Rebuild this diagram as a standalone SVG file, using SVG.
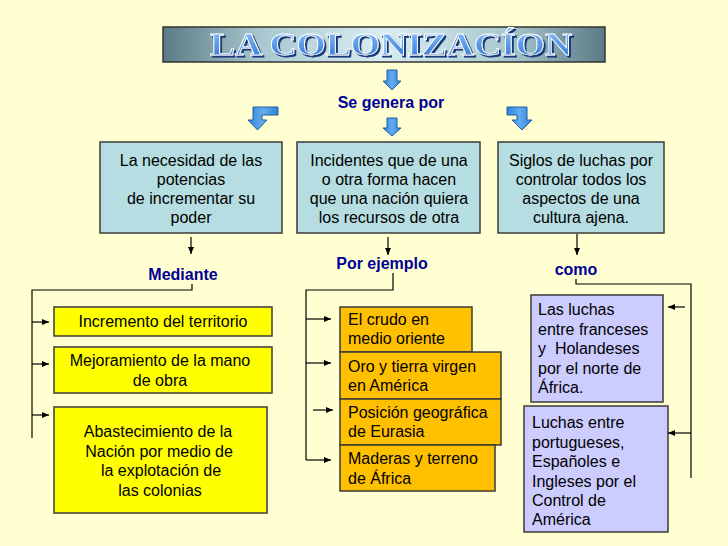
<svg xmlns="http://www.w3.org/2000/svg" width="728" height="546" viewBox="0 0 728 546">
<defs>
  <linearGradient id="bar" x1="0" y1="0" x2="1" y2="0">
    <stop offset="0" stop-color="#5A7A85"/>
    <stop offset="0.22" stop-color="#A9C7CF"/>
    <stop offset="0.5" stop-color="#D9EDF1"/>
    <stop offset="0.78" stop-color="#A9C7CF"/>
    <stop offset="1" stop-color="#5A7A85"/>
  </linearGradient>
  <linearGradient id="blue" x1="0" y1="0" x2="1" y2="0">
    <stop offset="0" stop-color="#3482D6"/>
    <stop offset="0.5" stop-color="#62ACF0"/>
    <stop offset="1" stop-color="#3482D6"/>
  </linearGradient>
  <linearGradient id="titleFill" x1="0" y1="0" x2="0" y2="1">
    <stop offset="0" stop-color="#8CC6FF"/>
    <stop offset="1" stop-color="#2A6FD0"/>
  </linearGradient>
  <filter id="tshadow" x="-5%" y="-20%" width="110%" height="150%">
    <feDropShadow dx="2" dy="2" stdDeviation="0.4" flood-color="#123A78" flood-opacity="1"/>
  </filter>
  <marker id="ah" markerUnits="userSpaceOnUse" markerWidth="7" markerHeight="6" refX="7" refY="3" orient="auto">
    <path d="M0,0 L7,3 L0,6 z" fill="#000"/>
  </marker>
</defs>
<style>
  .box { stroke: #3A3A3A; stroke-width: 1.5; }
  .teal { fill: #B6DDE1; }
  .yel { fill: #FFFF00; }
  .org { fill: #FFC000; }
  .lav { fill: #CCCCFF; }
  .t { font-family: "Liberation Sans", Arial, sans-serif; font-size: 16px; fill: #000; }
  .c { text-anchor: middle; }
  .lbl { font-family: "Liberation Sans", Arial, sans-serif; font-size: 16px; font-weight: bold; fill: #000099; text-anchor: middle; }
  .ba { fill: url(#blue); stroke: #1E5FA8; stroke-width: 1; }
  .con { fill: none; stroke: #000; stroke-width: 1.2; }
  .arr { fill: none; stroke: #000; stroke-width: 1.2; marker-end: url(#ah); }
</style>
<rect x="0" y="0" width="728" height="546" fill="#FFFFD2"/>

<g id="title">
  <rect x="163" y="27" width="442" height="35" fill="url(#bar)" stroke="#333" stroke-width="1.5"/>
  <text x="210" y="55" textLength="362" lengthAdjust="spacingAndGlyphs" font-family="Liberation Serif, serif" font-weight="bold" font-size="31" fill="url(#titleFill)" stroke="#FFFFFF" stroke-width="0.8" filter="url(#tshadow)">LA COLONIZACÍON</text>
</g>

<g id="blue-arrows">
  <path class="ba" d="M387,70 H397 V81 H401 L392,90 L383,81 H387 Z"/>
  <path class="ba" d="M387,118 H397 V128 H401 L392,136 L383,128 H387 Z"/>
  <path class="ba" d="M278,107 V115 H262 V120 H267 L257.5,130 L248,120 H253 V107 Z"/>
  <path class="ba" d="M507,107 H527 V120 H532 L522,130 L512,120 H517 V115 H507 Z"/>
</g>

<g id="label-se-genera">
  <text class="lbl" x="391" y="108">Se genera por</text>
</g>

<g id="node-necesidad">
  <rect class="box teal" x="100" y="142" width="182" height="91"/>
  <text class="t c" x="191" y="166">La necesidad de las</text>
  <text class="t c" x="191" y="185">potencias</text>
  <text class="t c" x="191" y="204">de incrementar su</text>
  <text class="t c" x="191" y="223">poder</text>
</g>

<g id="node-incidentes">
  <rect class="box teal" x="297" y="142" width="183" height="91"/>
  <text class="t c" x="389" y="166">Incidentes que de una</text>
  <text class="t c" x="389" y="185">o otra forma hacen</text>
  <text class="t c" x="389" y="204">que una nación quiera</text>
  <text class="t c" x="389" y="223">los recursos de otra</text>
</g>

<g id="node-siglos">
  <rect class="box teal" x="498" y="142" width="166" height="91"/>
  <text class="t c" x="581" y="166">Siglos de luchas por</text>
  <text class="t c" x="581" y="185">controlar todos los</text>
  <text class="t c" x="581" y="204">aspectos de una</text>
  <text class="t c" x="581" y="223">cultura ajena.</text>
</g>

<g id="label-mediante"><text class="lbl" x="183" y="280">Mediante</text></g>
<g id="label-por-ejemplo"><text class="lbl" x="382" y="269">Por ejemplo</text></g>
<g id="label-como"><text class="lbl" x="576" y="275">como</text></g>

<g id="node-incremento">
  <rect class="box yel" x="54" y="307" width="218" height="29"/>
  <text class="t c" x="163" y="327">Incremento del territorio</text>
</g>
<g id="node-mejoramiento">
  <rect class="box yel" x="54" y="347" width="218" height="46"/>
  <text class="t c" x="160" y="366">Mejoramiento de la mano</text>
  <text class="t c" x="160" y="386">de obra</text>
</g>
<g id="node-abastecimiento">
  <rect class="box yel" x="54" y="407" width="213" height="106"/>
  <text class="t c" x="158" y="437">Abastecimiento de la</text>
  <text class="t c" x="159" y="457">Nación por medio de</text>
  <text class="t c" x="161" y="476">la explotación de</text>
  <text class="t c" x="160" y="496">las colonias</text>
</g>

<g id="node-crudo">
  <rect class="box org" x="340" y="307" width="132" height="45"/>
  <text class="t" x="348" y="325">El crudo en</text>
  <text class="t" x="348" y="344">medio oriente</text>
</g>
<g id="node-oro">
  <rect class="box org" x="340" y="352" width="161" height="47"/>
  <text class="t" x="348" y="372">Oro y tierra virgen</text>
  <text class="t" x="348" y="391">en América</text>
</g>
<g id="node-posicion">
  <rect class="box org" x="340" y="399" width="161" height="46"/>
  <text class="t" x="348" y="418">Posición geográfica</text>
  <text class="t" x="348" y="437">de Eurasia</text>
</g>
<g id="node-maderas">
  <rect class="box org" x="340" y="445" width="155" height="46"/>
  <text class="t" x="348" y="464">Maderas y terreno</text>
  <text class="t" x="348" y="484">de África</text>
</g>

<g id="node-luchas-franceses">
  <rect class="box lav" x="531" y="295" width="132" height="107"/>
  <text class="t" x="538" y="315">Las luchas</text>
  <text class="t" x="538" y="335">entre franceses</text>
  <text class="t" x="538" y="354" xml:space="preserve">y  Holandeses</text>
  <text class="t" x="538" y="374">por el norte de</text>
  <text class="t" x="538" y="393">África.</text>
</g>
<g id="node-luchas-portugueses">
  <rect class="box lav" x="524" y="406" width="144" height="126"/>
  <text class="t" x="532" y="428">Luchas entre</text>
  <text class="t" x="532" y="448">portugueses,</text>
  <text class="t" x="532" y="467">Españoles e</text>
  <text class="t" x="532" y="487">Ingleses por el</text>
  <text class="t" x="532" y="506">Control de</text>
  <text class="t" x="532" y="525">América</text>
</g>

<g id="connectors">
  <path class="arr" d="M191,237 V254"/>
  <path class="arr" d="M388,237 V255"/>
  <path class="arr" d="M577,234 V255"/>
  <path class="con" d="M192,284 V290 H32 V438"/>
  <path class="arr" d="M32,322 H49"/>
  <path class="arr" d="M32,364 H49"/>
  <path class="arr" d="M32,415 H49"/>
  <path class="con" d="M393,273 V290 H306 V460"/>
  <path class="arr" d="M306,319 H331"/>
  <path class="arr" d="M306,363 H331"/>
  <path class="arr" d="M313,410 H333"/>
  <path class="arr" d="M306,460 H331"/>
  <path class="con" d="M576,279 V284 H691 V478"/>
  <path class="arr" d="M685,307 H668"/>
  <path class="arr" d="M691,433 H668"/>
</g>
</svg>
